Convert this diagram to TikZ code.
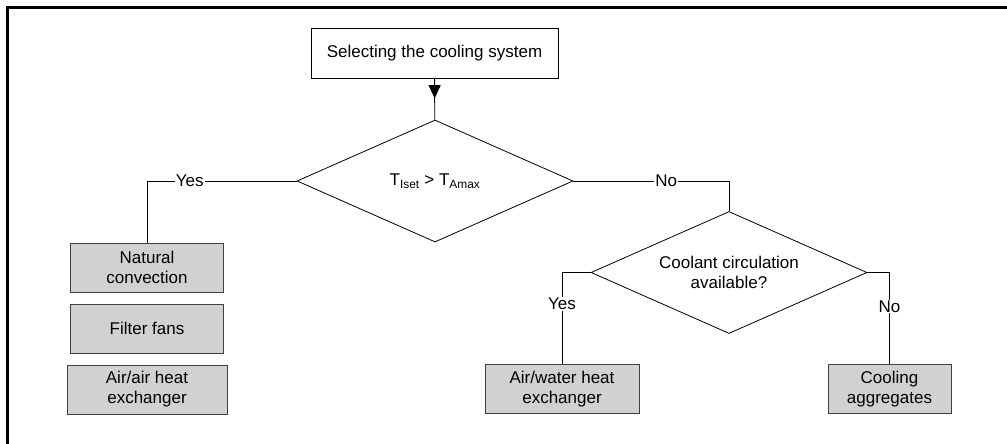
\documentclass[tikz,border=0pt]{standalone}
\usepackage{fontspec}
\setmainfont{Liberation Sans}
\usetikzlibrary{shapes.geometric, arrows.meta, decorations.markings}

\begin{document}
\begin{tikzpicture}[x=1pt, y=-1pt,
		font=\fontsize{17}{20}\selectfont,
		start/.style={draw=black, line width=.8pt, fill=white, minimum width=247pt, minimum height=50pt, inner sep=0pt},
		question/.style={draw=black, line width=.8pt, diamond, aspect=2.26, minimum width=276pt, minimum height=122pt, inner sep=0pt, align=center},
		result/.style={draw=black!75, line width=1pt, fill=black!18, minimum height=49pt, inner sep=0pt, align=center},
		answer/.style={fill=white, inner sep=1pt},
		flow/.style={line width=.9pt}]
		\useasboundingbox (0,0) rectangle (1007,444);
		\draw[line width=3pt] (7.5,444) -- (7.5,7.5) -- (1007,7.5);
		\node[start] (sel) at (434.5,53) {Selecting the cooling system};
		\node[question] (Q1) at (435,181) {T\textsubscript{Iset} > T\textsubscript{Amax}};
		\node[question] (Q2) at (729,272.5) {Coolant circulation\\available?};
		\foreach \y/\w/\txt [count = \i] in {267.5/153/{Natural\\convection}, 328.5/153/{Filter fans}, 389.5/160/{Air/air heat\\exchanger}}{
				\node[result, minimum width=\w] (L\i) at (147,\y) {\txt};
			}
		\node[result, minimum width=154] (R1) at (562,389) {Air/water heat\\exchanger};
		\node[result, minimum width=123] (R2) at (889.5,389) {Cooling\\aggregates};
		\draw[flow, postaction={decorate}, decoration={markings,
				mark=at position .48 with {\arrow{Triangle[width=12pt, length=13pt]}}}] (sel) -- (Q1);
		\draw[flow] (Q1.west) -| node[answer, pos=.357] {Yes} (L1.north);
		\draw[flow] (Q1.east) -| node[answer, pos=.298] {No} (Q2.north);
		\draw[flow] (Q2.west) -| node[answer, pos=.67] {Yes} (R1.north);
		\draw[flow] (Q2.east) -| node[answer, pos=.686] {No} (R2.north);
	\end{tikzpicture}
\end{document}
